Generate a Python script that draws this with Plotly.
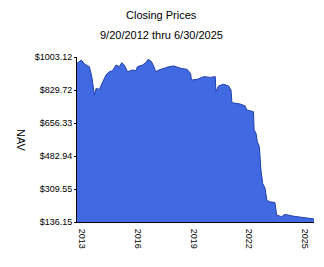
import plotly.graph_objects as go

dates = [
    "2012-09-20", "2012-12-15", "2013-02-14", "2013-05-22", "2013-07-08", "2013-08-29",
    "2013-10-01", "2013-12-05", "2014-02-10", "2014-04-16", "2014-06-18", "2014-08-22",
    "2014-10-27", "2015-01-01", "2015-02-17", "2015-04-08", "2015-06-13", "2015-09-20",
    "2015-11-22", "2015-12-24", "2016-04-01", "2016-06-06", "2016-07-20", "2016-09-24",
    "2016-11-13", "2016-12-17", "2017-02-20", "2017-05-30", "2017-09-05", "2017-12-10",
    "2018-04-20", "2018-08-29", "2018-11-03", "2018-11-22", "2019-03-15", "2019-07-20",
    "2019-11-28", "2020-03-05", "2020-03-16", "2020-05-08", "2020-08-15", "2020-11-20",
    "2021-01-08", "2021-01-26", "2021-07-09", "2021-10-12", "2021-11-14", "2022-03-26",
    "2022-04-08", "2022-05-16", "2022-06-10", "2022-07-20", "2022-08-20", "2022-09-24",
    "2022-11-10", "2022-12-13", "2023-02-03", "2023-05-23", "2023-06-25", "2023-10-01",
    "2023-12-05", "2024-05-15", "2024-11-28", "2025-06-30",
]
nav = [
    970, 987, 966, 952, 900, 803,
    838, 833, 873, 909, 926, 931,
    961, 952, 973, 961, 926, 935,
    931, 952, 961, 973, 991, 979,
    952, 926, 935, 944, 952, 956,
    944, 938, 917, 882, 886, 900,
    896, 900, 821, 851, 860, 851,
    830, 763, 756, 746, 725, 716,
    620, 602, 558, 532, 409, 339,
    313, 252, 243, 238, 173, 164,
    176, 167, 160, 152,
]

ytick_vals = [136.15, 309.55, 482.94, 656.33, 829.72, 1003.12]
ytick_text = ["$136.15", "$309.55", "$482.94", "$656.33", "$829.72", "$1003.12"]
xtick_vals = ["2013-01-01", "2016-01-01", "2019-01-01", "2022-01-01", "2025-01-01"]
xtick_text = ["2013", "2016", "2019", "2022", "2025"]

FONT = "Liberation Sans, Arial, sans-serif"

fig = go.Figure()
fig.add_trace(go.Scatter(
    x=dates, y=nav, mode="lines", fill="tozeroy",
    fillcolor="#4169E1", line=dict(color="#1F3FAE", width=1),
    hoverinfo="skip",
))

fig.update_layout(
    width=324, height=267,
    margin=dict(l=77, r=10, t=57, b=45),
    paper_bgcolor="white", plot_bgcolor="white",
    showlegend=False,
    font=dict(family=FONT, size=9, color="black"),
)
fig.add_annotation(text="Closing Prices", xref="paper", yref="paper",
                   x=(161 - 77) / 237, xanchor="center",
                   y=1 + (57 - 15) / 165, yanchor="middle",
                   showarrow=False, font=dict(family=FONT, size=11, color="black"))
fig.add_annotation(text="9/20/2012 thru 6/30/2025", xref="paper", yref="paper",
                   x=(161 - 77) / 237, xanchor="center",
                   y=1 + (57 - 35) / 165, yanchor="middle",
                   showarrow=False, font=dict(family=FONT, size=11, color="black"))
fig.add_annotation(text="NAV", xref="paper", yref="paper",
                   x=(21 - 77) / 237, xanchor="center",
                   y=(222 - 140) / 165, yanchor="middle", textangle=90,
                   showarrow=False, font=dict(family=FONT, size=11, color="black"))

fig.update_xaxes(
    type="date", range=["2012-09-20", "2025-06-30"],
    tickvals=xtick_vals, ticktext=xtick_text, tickangle=90,
    showgrid=False, zeroline=False, showline=True, linecolor="black", linewidth=1,
    ticks="", ticklabelstandoff=4,
    tickfont=dict(family=FONT, size=9, color="black"),
)
fig.update_yaxes(
    range=[136.15, 1003.12],
    tickvals=ytick_vals, ticktext=ytick_text,
    showgrid=False, zeroline=False, showline=True, linecolor="black", linewidth=1,
    ticks="outside", ticklen=2, tickcolor="black",
    tickfont=dict(family=FONT, size=9, color="black"),
)

fig.write_html("out.html")
